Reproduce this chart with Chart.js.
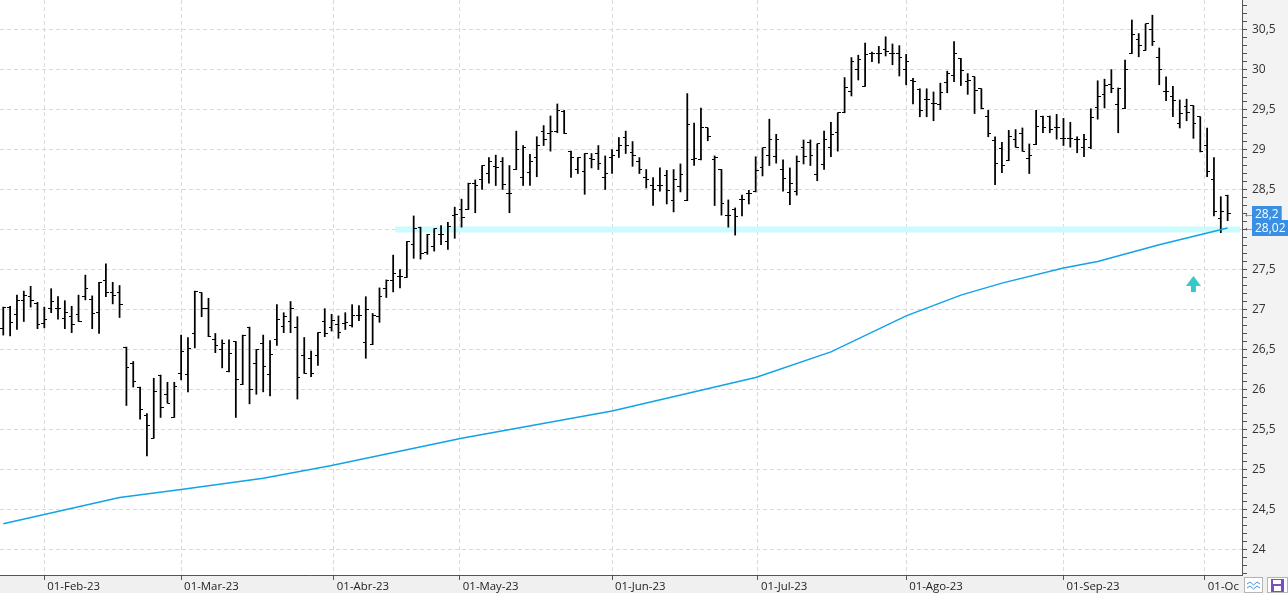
<!DOCTYPE html>
<html>
<head>
<meta charset="utf-8">
<title>ohlc</title>
<script src="https://cdn.jsdelivr.net/npm/chart.js@4.4.0/dist/chart.umd.min.js"></script>
<style>
  body { margin: 0; background: #fff; }
  #wrap { width: 1288px; height: 593px; position: relative; }
</style>
</head>
<body>
<div id="wrap"><canvas id="chart"></canvas></div>
<script>
// month ticks (position in trading-day index, weekend starts fall between bars)
var monthLabels = ['01-Feb-23','01-Mar-23','01-Abr-23','01-May-23','01-Jun-23','01-Jul-23','01-Ago-23','01-Sep-23','01-Oct-23'];
var monthIndex = [6, 26, 48.33, 66.75, 89, 110.33, 132, 155, 175.67];

// daily bars, one per trading day from late Jan to early Oct
var opens = [26.76,27.03,26.94,27.11,27.16,27.07,26.82,27.01,27.01,26.89,26.91,26.94,27.16,27.13,26.96,27.36,27.21,27.21,26.53,26.33,
26.03,25.67,25.39,26.18,25.94,25.65,26.20,26.19,26.70,27.21,27.01,26.62,26.50,26.22,26.60,26.06,26.78,26.32,26.58,26.19,
26.63,26.79,26.85,26.78,26.43,26.39,26.43,26.85,26.78,26.81,26.83,26.80,26.93,26.59,26.56,26.91,27.26,27.36,27.41,27.40,
27.81,28.03,27.71,27.79,27.94,27.85,28.17,28.25,28.25,28.57,28.62,28.70,28.79,28.85,28.45,28.75,28.65,28.71,28.90,29.23,
29.20,29.22,29.48,28.98,28.75,28.72,28.89,28.95,28.65,28.90,28.99,29.15,28.96,28.85,28.65,28.55,28.55,28.68,28.36,28.54,
28.36,28.87,28.87,29.27,28.88,28.75,28.18,28.25,28.37,28.45,28.47,28.77,28.93,28.91,28.75,28.46,28.47,29.02,29.09,28.69,
28.81,29.02,29.21,29.46,29.73,30.00,29.79,30.20,30.20,30.25,30.20,30.20,30.00,29.86,29.75,29.62,29.57,29.56,29.84,29.93,
30.14,29.85,29.91,29.76,29.41,29.11,29.01,28.86,29.13,29.20,28.89,29.06,29.41,29.41,29.27,29.14,29.14,29.12,29.03,29.02,
29.52,29.69,29.81,29.56,29.51,30.20,30.37,30.24,30.50,30.15,29.73,29.66,29.33,29.54,29.55,29.41,29.05,28.63,28.14,28.43];
var highs = [27.03,27.04,27.18,27.23,27.29,27.09,27.03,27.26,27.16,27.11,27.04,27.18,27.43,27.17,27.34,27.57,27.34,27.30,26.53,26.35,
26.03,25.70,26.14,26.18,26.09,26.09,26.68,26.65,27.23,27.21,27.14,26.70,26.62,26.62,26.60,26.68,26.78,26.50,26.68,26.61,
27.06,26.96,27.10,26.91,26.65,26.48,26.71,27.01,26.94,26.92,26.96,27.06,27.05,27.16,26.95,27.27,27.37,27.68,27.50,27.85,
28.17,28.03,27.94,28.01,28.05,28.09,28.28,28.38,28.58,28.62,28.80,28.90,28.93,28.90,28.80,29.23,29.05,28.94,29.16,29.30,
29.42,29.57,29.49,28.98,28.90,28.95,28.95,29.05,28.92,29.00,29.15,29.23,29.10,28.90,28.75,28.65,28.77,28.74,28.75,28.82,
29.70,29.33,29.52,29.27,28.92,28.75,28.37,28.27,28.43,28.49,28.91,29.02,29.38,29.19,28.87,28.77,28.92,29.12,29.12,29.07,
29.23,29.34,29.46,29.90,30.15,30.18,30.33,30.22,30.29,30.41,30.32,30.30,30.19,29.89,29.76,29.76,29.72,29.83,29.98,30.35,
30.14,29.95,29.91,29.76,29.49,29.16,29.09,29.24,29.25,29.27,29.07,29.49,29.42,29.42,29.44,29.39,29.34,29.16,29.19,29.51,
29.86,29.88,30.00,29.77,30.12,30.62,30.45,30.57,30.68,30.27,29.91,29.79,29.62,29.63,29.55,29.41,29.27,28.90,28.41,28.43];
var lows = [26.68,26.67,26.75,26.85,27.03,26.76,26.77,26.96,26.88,26.76,26.71,26.85,27.12,26.76,26.70,27.16,27.07,26.90,25.80,26.03,
25.63,25.17,25.39,25.65,25.83,25.65,26.12,25.97,26.52,26.91,26.66,26.46,26.27,26.22,25.65,26.06,25.82,25.94,25.97,25.92,
26.55,26.71,26.71,25.88,26.20,26.16,26.30,26.66,26.73,26.64,26.75,26.78,26.86,26.39,26.56,26.84,27.15,27.22,27.27,27.40,
27.64,27.63,27.69,27.73,27.81,27.75,27.89,28.03,28.25,28.21,28.50,28.58,28.55,28.50,28.21,28.75,28.55,28.55,28.66,29.05,
28.98,29.21,29.20,28.65,28.70,28.44,28.77,28.75,28.50,28.70,28.90,28.95,28.79,28.70,28.52,28.30,28.48,28.32,28.22,28.47,
28.36,28.80,28.87,29.11,28.30,28.18,28.03,27.93,28.17,28.32,28.47,28.67,28.80,28.83,28.48,28.31,28.43,28.82,28.80,28.61,
28.75,28.91,28.98,29.46,29.67,29.87,29.79,30.10,30.08,30.17,30.06,29.92,29.81,29.57,29.41,29.41,29.36,29.50,29.71,29.85,
29.80,29.69,29.45,29.51,29.16,28.56,28.71,28.86,29.03,28.98,28.70,29.06,29.21,29.21,29.13,29.05,29.03,28.96,28.91,29.01,
29.38,29.52,29.71,29.21,29.51,30.20,30.16,30.24,30.30,29.81,29.61,29.41,29.27,29.36,29.14,28.97,28.66,28.17,27.96,28.11];
var closes = [27.03,26.84,27.11,27.17,27.11,26.81,26.88,27.10,27.01,26.96,26.81,26.85,27.26,26.95,27.34,27.21,27.17,27.06,26.28,26.10,
25.75,25.55,25.97,25.78,25.83,26.04,26.47,26.51,27.23,27.01,26.66,26.55,26.58,26.45,26.13,26.68,26.00,26.50,26.29,26.44,
26.87,26.91,27.01,26.15,26.20,26.20,26.71,26.70,26.86,26.71,26.84,26.93,26.93,27.00,26.92,27.16,27.36,27.45,27.41,27.85,
28.01,27.70,27.94,28.01,27.94,28.04,28.19,28.15,28.57,28.55,28.80,28.85,28.78,28.56,28.45,29.00,29.03,28.85,29.05,29.13,
29.23,29.49,29.20,28.90,28.90,28.95,28.88,28.82,28.70,28.93,29.05,29.05,28.93,28.75,28.63,28.50,28.55,28.49,28.62,28.69,
29.31,28.89,29.28,29.16,28.90,28.32,28.18,28.16,28.37,28.45,28.74,29.02,29.13,29.12,28.64,28.58,28.85,28.91,28.93,29.07,
29.12,29.19,29.46,29.78,30.10,30.13,30.19,30.20,30.20,30.22,30.20,30.15,30.10,29.85,29.49,29.62,29.57,29.71,29.95,30.20,
29.99,29.86,29.74,29.51,29.20,28.83,28.80,29.16,29.03,28.98,28.92,29.29,29.27,29.25,29.27,29.14,29.14,29.12,29.12,29.40,
29.66,29.80,29.76,29.76,30.00,30.44,30.30,30.57,30.35,30.00,29.73,29.61,29.45,29.46,29.33,28.97,28.73,28.23,28.23,28.20];

// moving average (bar index, value)
var maIndex = [0, 17, 26, 38, 48, 67, 89, 110, 121, 132, 140, 146, 155, 160, 169, 179];
var maValues = [24.32, 24.65, 24.75, 24.89, 25.05, 25.39, 25.73, 26.15, 26.47, 26.92, 27.18, 27.33, 27.52, 27.60, 27.81, 28.02];

// support level drawn as a band
var supportLevel = 28.0;
var supportFrom = 57.3, supportTo = 180.8;

// signal arrow
var arrowIndex = 174, arrowValue = 27.32;

function fmt(v) { return String(Math.round(v * 100) / 100).replace('.', ','); }

function tickImage(side) {
    var c = document.createElement('canvas');
    c.width = 6; c.height = 1;
    var g = c.getContext('2d');
    g.fillStyle = '#000';
    if (side < 0) g.fillRect(0, 0, 3, 1); else g.fillRect(3, 0, 3, 1);
    return c;
}
function arrowImage() {
    var c = document.createElement('canvas');
    c.width = 15; c.height = 16;
    var g = c.getContext('2d');
    g.fillStyle = '#36c8c6';
    g.beginPath(); g.moveTo(0, 10); g.lineTo(7.5, 0); g.lineTo(15, 10); g.closePath(); g.fill();
    g.fillRect(5, 10, 5, 6);
    return c;
}

var hl = [], op = [], cl = [];
for (var i = 0; i < highs.length; i++) {
    hl.push({x: i, y: [lows[i], highs[i]]});
    op.push({x: i, y: opens[i]});
    cl.push({x: i, y: closes[i]});
}
var ma = maIndex.map(function (x, k) { return {x: x, y: maValues[k]}; });

var panels = {
    id: 'panels',
    beforeDraw: function (chart) {
        var c = chart.ctx, a = chart.chartArea;
        c.save();
        c.fillStyle = '#f3f3f4';
        c.fillRect(a.right, 0, chart.width - a.right, chart.height);
        c.fillStyle = '#f0f0f0';
        c.fillRect(0, a.bottom, a.right, chart.height - a.bottom);
        c.fillStyle = '#ffffff';
        c.fillRect(a.left, a.top, a.right - a.left, a.bottom - a.top);
        c.restore();
    },
    afterDraw: function (chart) {
        var c = chart.ctx, a = chart.chartArea, y = chart.scales.y;
        c.save();
        // price tags: last close and last average value
        var tags = [closes[closes.length - 1], maValues[maValues.length - 1]];
        c.font = '12px "Open Sans", sans-serif';
        c.textBaseline = 'middle';
        tags.forEach(function (v) {
            var py = Math.round(y.getPixelForValue(v));
            var txt = fmt(v);
            var w = c.measureText(txt).width + 6;
            c.fillStyle = '#3b8fe3';
            c.fillRect(a.right + 10, py - 8, w, 16);
            c.fillStyle = '#ffffff';
            c.textAlign = 'left';
            c.fillText(txt, a.right + 13, py + 1);
            c.fillStyle = '#555';
            c.fillText('\u2190', a.right + 1, py);
        });
        // corner buttons (they also hide the tail of the last month label)
        c.fillStyle = '#f0f0f0';
        c.fillRect(a.right - 3, a.bottom + 1, chart.width - a.right + 3, chart.height - a.bottom);
        c.fillStyle = '#fff';
        c.strokeStyle = '#b5b5b5';
        c.fillRect(1244.5, 577.5, 18, 15); c.strokeRect(1244.5, 577.5, 18, 15);
        c.fillRect(1267.5, 577.5, 20, 15); c.strokeRect(1267.5, 577.5, 20, 15);
        c.strokeStyle = '#4a90d9'; c.lineWidth = 1;
        [582, 586].forEach(function (yy) {
            c.beginPath(); c.moveTo(1247, yy + 2); c.lineTo(1250, yy); c.lineTo(1253.5, yy + 3); c.lineTo(1257, yy); c.lineTo(1260, yy + 2); c.stroke();
        });
        c.fillStyle = '#7b4fc4';
        c.fillRect(1271, 579, 13, 13);
        c.fillStyle = '#fff';
        c.fillRect(1273, 580, 8, 4);
        c.fillRect(1274, 586, 7, 5);
        c.restore();
    }
};

var ctx = document.getElementById('chart').getContext('2d');
var chart = new Chart(ctx, {
    data: {
        datasets: [
            {type: 'line', data: [{x: supportFrom, y: supportLevel}, {x: supportTo, y: supportLevel}],
             borderColor: '#ccfbfd', borderWidth: 6, pointRadius: 0, order: 5},
            {type: 'line', data: ma, borderColor: '#12a3e6', borderWidth: 1.5, pointRadius: 0, tension: 0, order: 1},
            {type: 'bar', data: hl, backgroundColor: '#000', barThickness: 1.1, borderWidth: 0, grouped: false, order: 3},
            {type: 'scatter', data: op, pointStyle: tickImage(-1), pointRadius: 3, order: 2},
            {type: 'scatter', data: cl, pointStyle: tickImage(1), pointRadius: 3, order: 2},
            {type: 'scatter', data: [{x: arrowIndex, y: arrowValue}], pointStyle: arrowImage(), pointRadius: 8, order: 0}
        ]
    },
    options: {
        responsive: true,
        maintainAspectRatio: false,
        animation: false,
        events: [],
        layout: {padding: 0, autoPadding: false},
        plugins: {legend: {display: false}, tooltip: {enabled: false}},
        scales: {
            x: {
                type: 'linear',
                offset: false,
                min: -0.48, max: 181.1,
                afterFit: function (s) { s.height = 18; s.paddingLeft = 0; s.paddingRight = 0; },
                afterBuildTicks: function (s) { s.ticks = monthIndex.map(function (v) { return {value: v}; }); },
                ticks: {
                    autoSkip: false, maxRotation: 0, align: 'start', labelOffset: 3, padding: 0,
                    color: '#222', font: {family: '"Open Sans", sans-serif', size: 11.4},
                    callback: function (v, k) { return monthLabels[k]; }
                },
                grid: {offset: false, color: '#dadada', tickColor: '#555', tickLength: 5, lineWidth: 1},
                border: {display: true, color: '#555', dash: [4, 3]}
            },
            y: {
                position: 'right',
                min: 23.68, max: 30.87,
                afterFit: function (s) { s.width = 46; s.paddingTop = 0; s.paddingBottom = 0; },
                ticks: {
                    stepSize: 0.1, autoSkip: false, includeBounds: false, padding: 5,
                    color: '#333', font: {family: '"Open Sans", sans-serif', size: 12},
                    callback: function (v) { return Math.round(v * 10) % 5 === 0 ? fmt(v) : ''; }
                },
                grid: {
                    color: function (c) { return c.tick && Math.round(c.tick.value * 10) % 5 === 0 ? '#dadada' : 'rgba(0,0,0,0)'; },
                    tickColor: '#555', tickLength: 5, lineWidth: 1
                },
                border: {display: true, color: '#555', dash: [4, 3]}
            }
        }
    },
    plugins: [panels]
});
</script>
</body>
</html>
